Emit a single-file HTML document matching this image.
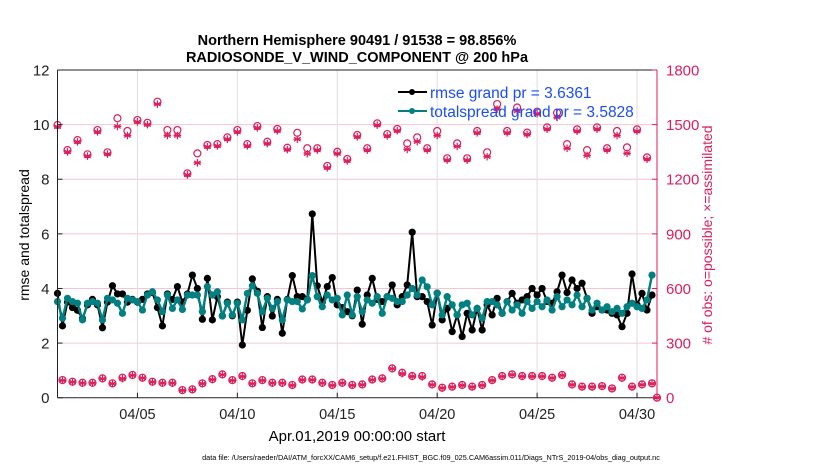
<!DOCTYPE html>
<html><head><meta charset="utf-8"><style>
body{margin:0;background:#fff;}
svg{display:block;font-family:"Liberation Sans",sans-serif;}
</style></head><body>
<svg id="chart" width="830" height="470" viewBox="0 0 830 470" xmlns="http://www.w3.org/2000/svg">
<rect x="0" y="0" width="830" height="470" fill="#fff"/>
<text x="357" y="45" text-anchor="middle" font-size="14.5" font-weight="bold">Northern Hemisphere 90491 / 91538 = 98.856%</text>
<text x="357" y="62" text-anchor="middle" font-size="14.5" font-weight="bold">RADIOSONDE_V_WIND_COMPONENT @ 200 hPa</text>
<g id="grid"></g>
<g id="obs"></g>
<g id="lines"></g>
<g id="axes"></g>
<g>
  <g>
    <line x1="398" y1="92" x2="427" y2="92" stroke="#000" stroke-width="2"/>
    <circle cx="412" cy="92" r="3" fill="#000"/>
    <text x="430" y="98" font-size="15.5" fill="#1a4cff">rmse grand pr = 3.6361</text>
  </g>
  <g>
    <line x1="398" y1="111" x2="427" y2="111" stroke="#008080" stroke-width="2"/>
    <circle cx="412" cy="111" r="3" fill="#008080"/>
    <text x="430" y="117" font-size="15.5" fill="#1a4cff">totalspread grand pr = 3.5828</text>
  </g>
</g>
<text transform="translate(29,235) rotate(-90)" text-anchor="middle" font-size="14">rmse and totalspread</text>
<text transform="translate(712,235) rotate(-90)" text-anchor="middle" font-size="14" fill="#dc1e5a"># of obs: o=possible; ×=assimilated</text>
<text x="357" y="441" text-anchor="middle" font-size="15">Apr.01,2019 00:00:00 start</text>
<text x="431" y="460" text-anchor="middle" font-size="7.3">data file: /Users/raeder/DAI/ATM_forcXX/CAM6_setup/f.e21.FHIST_BGC.f09_025.CAM6assim.011/Diags_NTrS_2019-04/obs_diag_output.nc</text>
</svg>
<script>
const leftTicks = [0,2,4,6,8,10,12];
const rightTicks = [0,300,600,900,1200,1500,1800];
const dayTicks = [4,9,14,19,24,29];
const dayTickLabels = ["04/05","04/10","04/15","04/20","04/25","04/30"];
const rmse = [3.82,2.63,3.5,3.3,3.2,2.9,3.4,3.6,3.4,2.56,3.5,4.1,3.8,3.8,3.5,3.6,3.5,3.6,3.8,3.85,3.3,2.63,3.8,3.6,4.07,3.5,3.8,4.49,4.0,2.87,
4.37,2.85,3.7,3.0,3.5,3.0,3.5,1.93,3.2,4.35,3.9,2.57,3.7,2.99,3.6,2.36,3.6,4.47,3.7,3.7,3.6,6.73,4.1,3.5,4.07,4.4,3.4,3.3,3.15,3.0,
3.94,2.69,3.76,4.37,3.6,3.52,3.7,4.13,3.4,3.7,4.13,6.06,3.7,3.7,3.52,2.66,3.83,2.85,3.27,2.42,3.03,2.24,3.09,2.48,3.27,2.48,3.4,3.03,3.64,3.09,
3.52,3.82,3.46,3.58,3.7,4.0,3.76,4.0,3.52,3.46,3.88,4.49,3.85,4.31,4.0,4.19,3.64,3.09,3.33,3.21,3.21,3.09,3.03,2.6,3.09,4.53,3.4,3.82,3.21,3.76];
const spread = [3.52,2.91,3.64,3.52,3.46,2.85,3.46,3.52,3.46,2.85,3.64,3.58,3.46,3.09,3.64,3.58,3.52,3.21,3.76,3.88,3.58,3.15,3.76,3.27,3.58,3.23,3.76,3.76,3.76,3.15,
4.07,3.76,3.88,2.99,3.46,3.03,3.46,2.85,3.82,4.1,3.82,3.15,3.64,3.27,3.52,2.85,3.58,3.52,3.52,3.25,3.58,4.47,3.7,3.33,3.76,3.58,3.64,3.03,3.76,3.03,
3.7,3.15,3.58,3.46,3.7,3.09,3.7,3.64,3.52,3.52,3.76,4.0,3.76,4.31,4.06,3.4,3.83,3.03,3.7,3.4,3.03,3.4,3.46,3.03,3.27,2.91,3.52,3.52,3.4,3.09,
3.52,3.21,3.4,3.09,3.52,3.27,3.52,3.33,3.58,3.21,3.7,3.33,3.58,3.4,3.76,3.33,3.64,3.21,3.46,3.21,3.33,3.15,3.27,3.09,3.33,3.46,3.33,3.27,3.58,4.49];
const upperPossible = [1498,1360,1415,1337,1470,1348,1535,1465,1525,1510,1626,1470,1470,1232,1342,1388,1393,1430,1470,1393,1492,1406,1476,1373,1455,1370,1370,1273,1351,1311,
1443,1370,1507,1448,1476,1397,1430,1370,1465,1315,1397,1315,1465,1348,1613,1465,1594,1456,1571,1485,1566,1393,1474,1360,1485,1370,1465,1375,1474,1320,0];
const upperAssim = [1488,1350,1405,1327,1460,1338,1490,1440,1515,1500,1612,1440,1440,1224,1290,1378,1383,1420,1460,1383,1482,1396,1466,1363,1420,1340,1360,1263,1341,1301,
1433,1360,1497,1438,1466,1364,1406,1360,1440,1305,1380,1305,1455,1324,1585,1455,1575,1446,1560,1475,1540,1370,1464,1330,1475,1360,1440,1342,1464,1310,0];
const lowerPossible = [97,88,82,82,106,79,110,125,110,88,82,82,42,46,79,102,128,97,119,79,97,82,82,70,100,100,82,70,82,
70,73,100,106,161,137,119,119,73,55,61,70,61,70,97,119,128,119,119,119,110,125,73,61,61,64,51,110,61,73,79];
const lowerAssim = [95,86,80,80,104,77,105,123,108,86,80,80,40,44,77,100,126,95,117,77,95,80,80,68,98,98,80,68,80,
68,71,98,104,159,132,117,114,71,53,59,68,59,68,95,117,126,117,117,117,108,123,71,59,59,62,49,108,59,71,77];

const X0=57.5, X1=657, Y0=397.7, Y1=70;
const xs = t => X0 + (X1-X0)*t/30;
const yl = v => Y0 - (Y0-Y1)*v/12;
const yr = v => Y0 - (Y0-Y1)*v/1800;
const NS="http://www.w3.org/2000/svg";
function mk(tag, attrs, parent){const e=document.createElementNS(NS,tag);for(const k in attrs)e.setAttribute(k,attrs[k]);parent.appendChild(e);return e;}
const grid=document.getElementById('grid'), axes=document.getElementById('axes'), obs=document.getElementById('obs'), lines=document.getElementById('lines');
const RED="#dc1e5a";

leftTicks.forEach((v,i)=>{ if(v>0&&v<12){const g=mk('line',{x1:X0,x2:X1,y1:yl(v),y2:yl(v),stroke:"#f4c6d4","stroke-width":1},grid);

}});
dayTicks.forEach((d,i)=>{const g=mk('line',{x1:xs(d),x2:xs(d),y1:Y1,y2:Y0,stroke:"#dddddd","stroke-width":1},grid);

});

function star(cx,cy,r,parent){
  const g=mk('g',{stroke:RED,"stroke-width":1.2},parent);
  for(let a=0;a<3;a++){const ang=Math.PI/3*a+Math.PI/2;mk('line',{x1:cx-r*Math.cos(ang),y1:cy-r*Math.sin(ang),x2:cx+r*Math.cos(ang),y2:cy+r*Math.sin(ang)},g);}
  mk('line',{x1:cx-r,y1:cy,x2:cx+r,y2:cy},g);
  return g;
}
upperPossible.forEach((v,k)=>{const t=k*0.5;
  const c=mk('circle',{cx:xs(t),cy:yr(v),r:3.5,fill:"none",stroke:RED,"stroke-width":1.2},obs);
  
  
  const s=star(xs(t),yr(upperAssim[k]),3.8,obs);
  
  
});
lowerPossible.forEach((v,k)=>{const t=k*0.5+0.25;
  const c=mk('circle',{cx:xs(t),cy:yr(v),r:3.5,fill:"none",stroke:RED,"stroke-width":1.2},obs);
  
  
  const s=star(xs(t),yr(lowerAssim[k]),3.8,obs);
  
  
});

function series(vals,color,name,rad,w){
  const pts=vals.map((v,i)=>xs(i*0.25).toFixed(1)+","+yl(v).toFixed(1)).join(" ");
  const p=mk('polyline',{points:pts,fill:"none",stroke:color,"stroke-width":w,"stroke-linejoin":"round"},lines);
  
  
  vals.forEach((v,i)=>{const c=mk('circle',{cx:xs(i*0.25),cy:yl(v),r:rad,fill:color},lines);
    
    });
}
series(rmse,"#000","rmse",3.6,2);
series(spread,"#008080","totalspread",3.6,2.4);

mk('line',{x1:X0,x2:X0,y1:Y1,y2:Y0,stroke:"#222","stroke-width":1},axes);
mk('line',{x1:X0,x2:X1,y1:Y1,y2:Y1,stroke:"#222","stroke-width":1},axes);
mk('line',{x1:X0,x2:X1,y1:Y0,y2:Y0,stroke:"#222","stroke-width":1},axes);
mk('line',{x1:X1,x2:X1,y1:Y1,y2:Y0,stroke:RED,"stroke-width":1},axes);
leftTicks.forEach(v=>{
  mk('line',{x1:X0,x2:X0+5,y1:yl(v),y2:yl(v),stroke:"#222"},axes);
  const t=mk('text',{x:X0-8,y:yl(v)+5.5,"text-anchor":"end","font-size":15,fill:"#222"},axes);t.textContent=v;
  
  
});
rightTicks.forEach(v=>{
  mk('line',{x1:X1-5,x2:X1,y1:yr(v),y2:yr(v),stroke:RED},axes);
  const t=mk('text',{x:X1+9,y:yr(v)+5.5,"font-size":15,fill:RED},axes);t.textContent=v;
  
  
});
dayTicks.forEach((d,i)=>{
  mk('line',{x1:xs(d),x2:xs(d),y1:Y0,y2:Y0-5,stroke:"#222"},axes);
  const t=mk('text',{x:xs(d),y:419,"text-anchor":"middle","font-size":14.5,fill:"#222"},axes);t.textContent=dayTickLabels[i];
  
  
});
</script>
</body></html>
